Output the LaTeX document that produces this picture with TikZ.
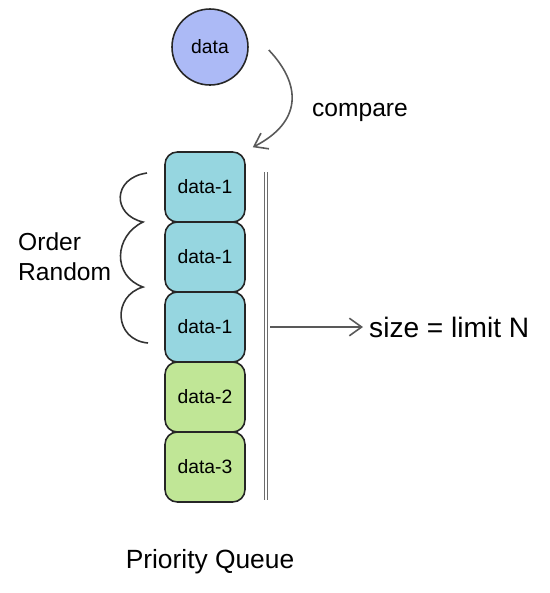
\documentclass[tikz,border=0pt]{standalone}
\usepackage{fontspec}
\setmainfont{Liberation Sans}
\usepackage{xcolor}
\usepackage{tikz}
\usetikzlibrary{arrows.meta,positioning,calc}
\definecolor{qblue}{RGB}{172,186,246}
\definecolor{qcyan}{RGB}{150,214,224}
\definecolor{qgreen}{RGB}{192,230,150}

\begin{document}
\begin{tikzpicture}[x=0.02cm, y=-0.02cm,
  item/.style={draw=black!85, line width=0.9pt, rounded corners=7pt,
    minimum width=1.6cm, minimum height=1.4cm, inner sep=0pt,
    font=\fontsize{11}{13}\selectfont},
  cy/.style={item, fill=qcyan},
  gr/.style={item, fill=qgreen},
  arr/.style={-{Straight Barb[length=7pt,width=10pt]}, draw=black!65, line width=0.9pt},
  bar/.style={draw=gray!85!black, line width=0.6pt, double=white, double distance=0.9pt},
  lbl/.style={font=\fontsize{14}{17}\selectfont, align=left}]
  \useasboundingbox (0,0) rectangle (550,593);
  % incoming element
  \node[circle, draw=black!85, line width=0.9pt, fill=qblue, minimum size=1.52cm,
    font=\fontsize{11}{13}\selectfont] (d) at (210,47) {data};
  \node[lbl] (cmp) at (360,112) {compare};
  % queue cells
  \node[cy] (q1) at (205,187) {data-1};
  \node[cy] (q2) at (205,257) {data-1};
  \node[cy] (q3) at (205,327) {data-1};
  \node[gr] (q4) at (205,397) {data-2};
  \node[gr] (q5) at (205,467) {data-3};
  % Arrows
  \draw[arr] ($(d.east)+(20,3)$) .. controls (302,85) and (302,122) .. ($(q1.north east)+(7,-4)$);
  % queue bound
  \coordinate (bt) at (266,172);
  \coordinate (bb) at (266,500);
  \draw[bar] (bt) -- (bb);
  \coordinate (bm) at (270,327);
  \node[lbl, anchor=west, font=\fontsize{16}{19}\selectfont] (lim) at (363,327) {size = limit N};
  \draw[arr] (bm) -- (lim.west);
  % brace over equal keys
  \draw[black!80, line width=0.9pt]
    (147,173) .. controls (112,178) and (112,215) .. (143,222)
    .. controls (114,236) and (112,276) .. (143,287)
    .. controls (112,296) and (114,340) .. (148,343);
  \node[lbl, anchor=west] (ord) at (12,257) {Order\\Random};
  % caption
  \node[font=\fontsize{15}{18}\selectfont] (pq) at (210,562) {Priority Queue};
\end{tikzpicture}
\end{document}
